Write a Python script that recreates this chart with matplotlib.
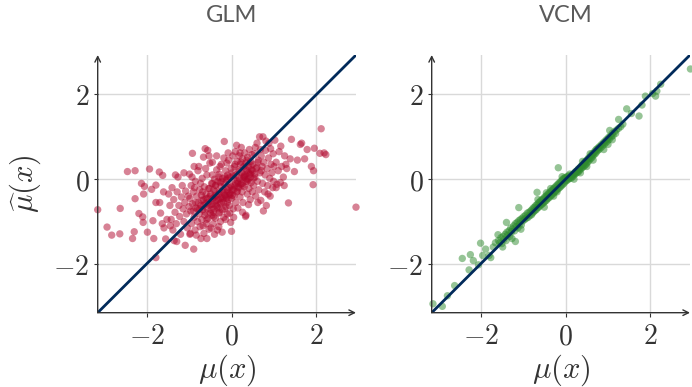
import numpy as np
import matplotlib
matplotlib.use("Agg")
import matplotlib.pyplot as plt

plt.rcParams['mathtext.fontset'] = 'cm'

# panel titles / ticks
titles = ['GLM', 'VCM']
tick_vals = [-2, 0, 2]
tick_labels = ['$-2$', '$0$', '$2$']
lim = (-3.15, 2.93)

# GLM: (mu, mu_hat), grouped by x band
glm_left = [(-3.15, -0.72), (-2.93, -1.13), (-2.82, -1.32), (-2.63, -1.29), (-2.62, -0.69),
            (-2.45, 0.18), (-2.27, 0.20), (-2.33, -1.40), (-2.29, -1.24), (-2.27, -0.46),
            (-2.18, -0.81), (-2.12, -0.10), (-2.07, -0.35), (-2.05, -0.17), (-2.09, -0.89),
            (-2.08, -1.02), (-1.98, -1.25), (-1.93, 0.24), (-1.88, -0.24), (-1.78, -0.14),
            (-1.83, -1.40), (-1.78, -1.85), (-1.78, -0.55), (-1.69, -0.55), (-1.70, 0.17),
            (-1.62, 0.09), (-1.67, -0.80), (-1.59, -1.15), (-1.55, -1.41), (-1.52, -0.95),
            (-1.63, -1.05), (-1.85, -0.98), (-1.60, -0.30)]
glm_a = [(-1.48, -0.35), (-1.45, -0.62), (-1.42, -0.95), (-1.40, -0.20), (-1.38, -1.20),
         (-1.36, -0.48), (-1.33, -0.78), (-1.30, -1.05), (-1.28, -0.30), (-1.26, 0.05),
         (-1.24, -0.62), (-1.22, -0.88), (-1.20, -1.30), (-1.18, -0.42), (-1.16, -0.15),
         (-1.14, -0.70), (-1.12, -1.00), (-1.10, -0.55), (-1.08, -0.28), (-1.06, -0.82),
         (-1.04, -1.15), (-1.02, -0.40), (-1.00, -0.65), (-1.35, -1.45), (-1.29, -1.47),
         (-1.12, 0.15), (-1.09, -1.56), (-0.98, -1.30), (-1.44, -1.10), (-1.32, 0.10),
         (-0.92, 0.61), (-0.89, -1.65)]
glm_b = [(-0.98, -0.45), (-0.96, -0.75), (-0.95, -0.15), (-0.94, -1.05), (-0.92, -0.58),
         (-0.90, -0.30), (-0.88, -0.90), (-0.86, -1.20), (-0.85, -0.05), (-0.84, -0.68),
         (-0.82, -0.40), (-0.80, -1.00), (-0.79, 0.20), (-0.78, -0.55), (-0.76, -0.82),
         (-0.75, -0.25), (-0.74, -1.12), (-0.72, -0.62), (-0.71, -0.38), (-0.70, -0.95),
         (-0.69, 0.02), (-0.68, -0.72), (-0.66, -0.48), (-0.65, -1.28), (-0.64, -0.18),
         (-0.63, -0.85), (-0.62, -0.58), (-0.60, -0.35), (-0.59, -1.05), (-0.58, 0.10),
         (-0.57, -0.70), (-0.56, -0.45), (-0.55, -0.92), (-0.54, -0.22), (-0.53, -1.18),
         (-0.52, -0.62), (-0.51, 0.38), (-0.50, -0.80), (-0.97, -1.28), (-0.93, 0.05),
         (-0.87, -0.20), (-0.83, -1.32), (-0.77, 0.30), (-0.73, -0.10), (-0.67, -1.10),
         (-0.61, 0.25), (-0.58, -1.40), (-0.53, 0.55), (-0.66, 0.52), (-0.62, 0.72),
         (-0.56, 0.68), (-0.88, 0.30), (-0.99, 0.12), (-0.72, -1.40), (-0.80, -0.70)]
glm_c = [(-0.49, -0.35), (-0.48, -0.60), (-0.47, -0.10), (-0.46, -0.85), (-0.45, 0.10),
         (-0.44, -0.45), (-0.43, -1.05), (-0.42, -0.25), (-0.41, -0.70), (-0.40, 0.00),
         (-0.39, -0.52), (-0.38, -0.92), (-0.37, -0.15), (-0.36, -0.38), (-0.35, 0.22),
         (-0.34, -0.65), (-0.33, -1.20), (-0.32, -0.05), (-0.31, -0.48), (-0.30, -0.80),
         (-0.29, 0.12), (-0.28, -0.30), (-0.27, -0.58), (-0.26, -1.00), (-0.25, -0.18),
         (-0.24, 0.35), (-0.23, -0.42), (-0.22, -0.72), (-0.21, 0.02), (-0.20, -0.25),
         (-0.19, -0.55), (-0.18, -0.90), (-0.17, 0.89), (-0.16, -0.12), (-0.15, -0.38),
         (-0.14, 0.20), (-0.13, -0.65), (-0.12, -0.02), (-0.11, -0.30), (-0.10, -0.82),
         (-0.09, 0.10), (-0.08, -0.48), (-0.07, 0.45), (-0.06, -0.20), (-0.05, -0.62),
         (-0.04, 0.05), (-0.03, -0.35), (-0.02, -1.02), (-0.01, 0.25), (-0.45, 0.40),
         (-0.40, -1.30), (-0.35, 0.55), (-0.30, -1.12), (-0.27, 0.30), (-0.22, -1.25),
         (-0.18, 0.50), (-0.14, -0.95), (-0.08, 0.62), (-0.04, -0.80), (-0.43, -0.78),
         (-0.38, -0.30), (-0.32, -0.68), (-0.26, -0.08), (-0.20, -0.45), (-0.15, 0.05),
         (-0.10, -0.55), (-0.06, -0.38), (-0.02, -0.15), (-0.48, -1.15), (-0.11, 0.38)]
glm_d = [(0.00, -0.45), (0.01, 0.15), (0.02, -0.25), (0.03, 0.55), (0.04, -0.70),
         (0.05, 0.00), (0.06, -0.40), (0.07, 0.30), (0.08, -0.15), (0.09, 0.65),
         (0.10, -0.55), (0.11, 0.10), (0.12, -0.30), (0.13, 0.42), (0.14, -0.05),
         (0.15, -0.68), (0.16, 0.22), (0.17, -0.20), (0.18, 0.55), (0.19, 0.02),
         (0.20, -0.42), (0.21, 0.35), (0.22, -0.12), (0.23, 0.75), (0.24, 0.15),
         (0.25, -0.30), (0.26, 0.48), (0.27, -0.55), (0.28, 0.05), (0.29, 0.30),
         (0.30, -0.18), (0.31, 0.62), (0.32, 0.10), (0.33, -0.88), (0.34, 0.38),
         (0.35, -0.05), (0.36, 0.20), (0.37, -0.35), (0.38, 0.52), (0.39, 0.00),
         (0.40, 0.30), (0.41, -0.22), (0.42, 0.70), (0.43, 0.12), (0.44, -0.48),
         (0.45, 0.42), (0.46, -0.08), (0.47, 0.22), (0.48, 0.58), (0.49, -0.30),
         (0.00, -1.23), (0.34, -0.85), (0.26, -0.78), (0.05, -0.90), (0.12, 0.80),
         (0.20, 0.62), (0.30, 0.05), (0.40, -0.60), (0.15, -0.10), (0.45, 0.15)]
glm_e = [(0.50, 0.35), (0.52, -0.15), (0.54, 0.60), (0.55, 0.05), (0.57, -0.40),
         (0.58, 0.25), (0.60, 0.85), (0.61, -0.05), (0.63, 0.45), (0.64, -0.25),
         (0.66, 1.00), (0.67, 0.15), (0.69, -0.50), (0.70, 0.55), (0.72, 0.30),
         (0.73, -0.10), (0.74, 1.00), (0.76, 0.40), (0.78, -0.30), (0.79, 0.10),
         (0.80, 0.68), (0.82, -0.62), (0.84, 0.25), (0.85, -0.15), (0.87, 0.50),
         (0.88, 0.85), (0.90, 0.02), (0.91, -0.40), (0.93, 0.35), (0.95, 0.15),
         (0.97, -0.20), (0.98, 0.60), (0.56, 0.75), (0.62, -0.55), (0.68, 0.70),
         (0.75, -0.75), (0.81, 0.90), (0.86, -0.35), (0.92, 0.72), (0.99, -0.05)]
glm_right = [(1.02, 0.92), (1.05, 0.40), (1.07, -0.12), (1.10, 0.20), (1.12, 0.65),
             (1.15, -0.08), (1.18, 0.30), (1.22, 0.05), (1.25, 0.55), (1.28, 0.35),
             (1.30, 0.25), (1.34, -0.56), (1.38, 0.48), (1.41, 0.94), (1.48, 0.18),
             (1.55, 0.45), (1.62, 0.82), (1.65, 0.85), (1.72, 0.48), (1.78, 0.70),
             (1.88, 0.30), (1.92, -0.13), (1.93, 0.20), (1.95, 0.73), (2.08, 0.61),
             (2.11, 1.19), (2.18, 0.62), (2.22, 0.58), (2.93, -0.66), (1.05, -0.20),
             (1.16, 0.78), (1.00, 0.30), (1.24, -0.15)]
# the dark, heavily overlapped centre of the GLM cloud
glm_core = [(-0.70, -0.50), (-0.65, -0.62), (-0.60, -0.45), (-0.55, -0.55), (-0.50, -0.40),
            (-0.45, -0.58), (-0.40, -0.42), (-0.35, -0.50), (-0.30, -0.35), (-0.25, -0.45),
            (-0.20, -0.30), (-0.15, -0.40), (-0.10, -0.25), (-0.05, -0.32), (0.00, -0.18),
            (0.05, -0.25), (0.10, -0.10), (0.15, -0.18), (0.20, -0.02), (0.25, -0.10),
            (0.30, 0.08), (0.35, 0.00), (0.40, 0.15), (0.45, 0.05), (0.50, 0.20),
            (0.55, 0.12), (0.60, 0.28), (-0.75, -0.70), (-0.62, -0.78), (-0.48, -0.72),
            (-0.36, -0.62), (-0.24, -0.55), (-0.12, -0.45), (0.02, -0.38), (0.14, -0.28),
            (0.26, -0.15), (0.38, -0.05), (0.52, 0.02), (-0.68, -0.30), (-0.52, -0.22),
            (-0.38, -0.15), (-0.24, -0.05), (-0.10, 0.02), (0.04, 0.08), (0.18, 0.18),
            (0.32, 0.25), (0.46, 0.32), (-0.85, -0.55), (-0.90, -0.75), (-0.58, -0.95),
            (-0.42, -0.88), (-0.28, -0.78), (-0.16, -0.70), (0.08, 0.35), (0.22, 0.40),
            (0.36, 0.45), (-0.30, 0.05), (-0.45, -0.10), (0.62, 0.40), (0.70, 0.20)]

# VCM: points hugging the diagonal
vcm_tails = [(-3.12, -2.94), (-2.90, -3.00), (-2.78, -2.75), (-2.61, -2.51), (-2.43, -1.87),
             (-2.27, -2.14), (-2.24, -1.78), (-2.17, -1.92), (-2.00, -1.51), (-1.88, -1.65),
             (-1.80, -1.80), (-1.76, -1.85), (-1.59, -1.31), (-1.39, -1.02), (-1.10, -0.67),
             (-1.18, -1.47), (-0.67, -0.31), (-0.17, 0.27), (1.25, 1.41), (1.44, 1.66),
             (1.73, 1.49), (1.88, 1.96), (2.12, 1.96), (2.24, 2.24), (2.94, 2.60),
             (-2.05, -2.02), (-1.95, -1.80), (-1.70, -1.60), (-1.65, -1.50), (1.35, 1.30),
             (1.55, 1.55), (1.80, 1.75), (2.05, 2.02), (2.15, 2.08)]
vcm_neg = [(-1.58, -1.45), (-1.55, -1.50), (-1.52, -1.38), (-1.50, -1.52), (-1.47, -1.35),
           (-1.45, -1.42), (-1.42, -1.30), (-1.40, -1.45), (-1.38, -1.25), (-1.36, -1.32),
           (-1.33, -1.22), (-1.31, -1.35), (-1.29, -1.15), (-1.27, -1.24), (-1.25, -1.18),
           (-1.22, -1.10), (-1.20, -1.22), (-1.18, -1.05), (-1.16, -1.12), (-1.14, -1.02),
           (-1.12, -1.15), (-1.10, -0.98), (-1.08, -1.05), (-1.06, -0.95), (-1.04, -1.08),
           (-1.02, -0.92), (-1.00, -0.98), (-0.98, -0.88), (-0.96, -0.95), (-0.94, -0.85),
           (-0.92, -0.92), (-0.90, -0.80), (-0.88, -0.90), (-0.86, -0.78), (-0.84, -0.86),
           (-0.82, -0.75), (-0.80, -0.84), (-1.48, -1.60), (-1.26, -1.40), (-1.05, -1.18)]
vcm_mid = [(-0.79, -0.72), (-0.78, -0.80), (-0.76, -0.68), (-0.75, -0.77), (-0.73, -0.66),
           (-0.72, -0.74), (-0.70, -0.62), (-0.69, -0.72), (-0.67, -0.60), (-0.66, -0.68),
           (-0.64, -0.56), (-0.63, -0.66), (-0.61, -0.54), (-0.60, -0.63), (-0.58, -0.50),
           (-0.57, -0.60), (-0.55, -0.48), (-0.54, -0.58), (-0.52, -0.46), (-0.51, -0.55),
           (-0.49, -0.42), (-0.48, -0.52), (-0.46, -0.40), (-0.45, -0.50), (-0.43, -0.37),
           (-0.42, -0.46), (-0.40, -0.34), (-0.39, -0.44), (-0.37, -0.31), (-0.36, -0.41),
           (-0.34, -0.28), (-0.33, -0.38), (-0.31, -0.25), (-0.30, -0.35), (-0.28, -0.22),
           (-0.27, -0.32), (-0.25, -0.19), (-0.24, -0.29), (-0.22, -0.16), (-0.21, -0.26),
           (-0.19, -0.13), (-0.18, -0.23), (-0.16, -0.10), (-0.15, -0.21), (-0.13, -0.07),
           (-0.12, -0.18), (-0.10, -0.04), (-0.09, -0.15), (-0.07, -0.01), (-0.06, -0.12),
           (-0.04, 0.02), (-0.03, -0.09), (-0.01, 0.04), (-0.65, -0.48), (-0.50, -0.66),
           (-0.35, -0.22), (-0.20, -0.30), (-0.08, 0.06), (-0.45, -0.32), (-0.28, -0.40)]
vcm_pos = [(0.00, -0.05), (0.01, 0.03), (0.03, -0.03), (0.04, 0.06), (0.06, -0.01),
           (0.07, 0.08), (0.09, 0.02), (0.10, 0.12), (0.12, 0.05), (0.13, 0.02),
           (0.15, 0.10), (0.16, 0.06), (0.18, 0.12), (0.19, 0.08), (0.21, 0.15),
           (0.22, 0.12), (0.24, 0.18), (0.25, 0.14), (0.27, 0.20), (0.28, 0.16),
           (0.30, 0.24), (0.31, 0.18), (0.33, 0.26), (0.34, 0.22), (0.36, 0.30),
           (0.37, 0.25), (0.39, 0.33), (0.40, 0.28), (0.42, 0.36), (0.43, 0.30),
           (0.45, 0.40), (0.46, 0.33), (0.48, 0.43), (0.49, 0.36), (0.51, 0.46),
           (0.52, 0.40), (0.54, 0.50), (0.55, 0.43), (0.57, 0.52), (0.58, 0.48),
           (0.60, 0.56), (0.61, 0.50), (0.63, 0.60), (0.64, 0.54), (0.66, 0.62),
           (0.67, 0.58), (0.69, 0.66), (0.70, 0.60), (0.72, 0.70), (0.73, 0.64),
           (0.75, 0.72), (0.76, 0.68), (0.78, 0.75), (0.79, 0.70), (0.20, 0.00),
           (0.35, 0.15), (0.50, 0.30), (0.65, 0.45), (0.40, 0.42), (0.58, 0.60)]
vcm_high = [(0.81, 0.78), (0.83, 0.74), (0.85, 0.82), (0.87, 0.78), (0.89, 0.86),
            (0.91, 0.82), (0.93, 0.90), (0.95, 0.86), (0.97, 0.94), (0.99, 0.90),
            (1.01, 0.98), (1.03, 0.94), (1.05, 1.02), (1.08, 1.00), (1.10, 1.08),
            (1.12, 1.03), (1.15, 1.12), (1.18, 1.08), (1.20, 1.16), (1.04, 1.15),
            (0.90, 0.70), (1.00, 0.82), (1.10, 0.93), (1.25, 1.20), (1.30, 1.24)]

glm = np.array(glm_left + glm_a + glm_b + glm_c + glm_d + glm_e + glm_right + glm_core)
vcm = np.array(vcm_tails + vcm_neg + vcm_mid + vcm_pos + vcm_high)

panels = [(glm, '#b0062c'), (vcm, '#2e8b2e')]
line_col = '#012a5a'
axis_col = '#333333'

fig = plt.figure(figsize=(6.92, 3.87), dpi=100)
lefts = [97.7 / 692, 431.7 / 692]
w = 258.3 / 692
bottom = 1 - 312.7 / 387
h = 257.7 / 387

for i, (pts, col) in enumerate(panels):
    ax = fig.add_axes([lefts[i], bottom, w, h])
    ax.scatter(pts[:, 0], pts[:, 1], s=28, color=col, alpha=0.5,
               edgecolors='none', zorder=2, clip_on=False)
    ax.plot(lim, lim, color=line_col, lw=2, zorder=3, solid_capstyle='butt')
    ax.set_xlim(lim)
    ax.set_ylim(lim)

    ax.set_xticks(tick_vals)
    ax.set_yticks(tick_vals)
    ax.set_xticklabels(tick_labels)
    ax.set_yticklabels(tick_labels)
    ax.tick_params(labelsize=20, colors=axis_col, length=3, width=0.8, pad=3)
    ax.tick_params(axis='x', pad=4)
    ax.grid(True, color='#d9d9d9', lw=1, zorder=0)
    ax.set_axisbelow(True)

    for s in ax.spines.values():
        s.set_visible(False)
    # axis arrows
    ax.annotate('', xy=(1.0, 0), xytext=(0, 0), xycoords='axes fraction',
                arrowprops=dict(arrowstyle='->', color=axis_col, lw=1,
                                shrinkA=0, shrinkB=0, mutation_scale=10))
    ax.annotate('', xy=(0, 1.0), xytext=(0, 0), xycoords='axes fraction',
                arrowprops=dict(arrowstyle='->', color=axis_col, lw=1,
                                shrinkA=0, shrinkB=0, mutation_scale=10))

    ax.text(0.52, 1.155, titles[i], transform=ax.transAxes, ha='center', va='center',
            fontsize=17, color='#5a5a5a', family='Lato')
    ax.text(0.5, -0.225, r'$\mu(x)$', transform=ax.transAxes, ha='center', va='center',
            fontsize=22, color='#333333')
    if i == 0:
        ax.text(-0.28, 0.5, r'$\widehat{\mu}(x)$', transform=ax.transAxes, ha='center',
                va='center', rotation=90, fontsize=22, color='#333333')

fig.savefig('out.png', dpi=100)
